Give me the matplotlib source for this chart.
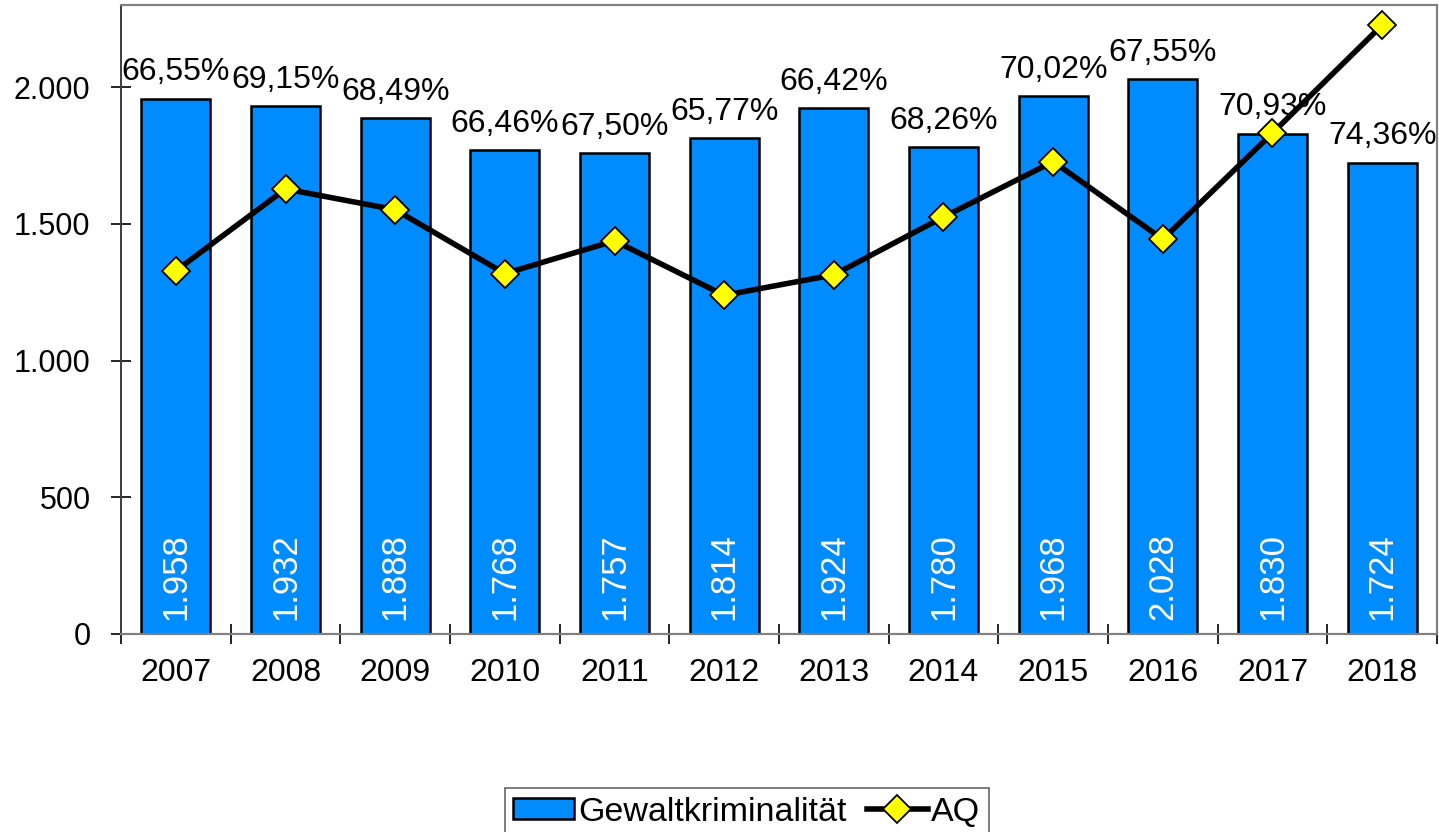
import matplotlib.pyplot as plt
from matplotlib.ticker import FuncFormatter, FixedLocator
import numpy as np

# Daten
jahre = ['2007', '2008', '2009', '2010', '2011', '2012',
         '2013', '2014', '2015', '2016', '2017', '2018']
gewalt = [1958, 1932, 1888, 1768, 1757, 1814, 1924, 1780, 1968, 2028, 1830, 1724]
aq = [66.55, 69.15, 68.49, 66.46, 67.50, 65.77, 66.42, 68.26, 70.02, 67.55, 70.93, 74.36]

plt.rcParams['font.family'] = ['Liberation Sans', 'DejaVu Sans']

fig = plt.figure(figsize=(14.39, 8.32), dpi=100)
ax = fig.add_axes([0.0841, 0.238, 0.9145, 0.756])
ax2 = ax.twinx()

x = np.arange(len(jahre))
bars = ax.bar(x, gewalt, width=0.63, color='#008cff', edgecolor='black',
              linewidth=1.8, zorder=2, label='Gewaltkriminalität')

def de(v):
    return f'{v:,.0f}'.replace(',', '.')

# Werte in den Balken (weiß, gedreht)
for xi, v in zip(x, gewalt):
    ax.annotate(de(v), (xi, 0), xytext=(0, 10), textcoords='offset points',
                rotation=90, ha='center', va='bottom', color='white', fontsize=25,
                zorder=3)

# Prozentwerte über den Balken
for xi, v, p in zip(x, gewalt, aq):
    ax.annotate(f'{p:.2f}%'.replace('.', ','), (xi, v), xytext=(0, 8),
                textcoords='offset points', ha='center', va='bottom',
                fontsize=23, zorder=4)

ax2.plot(x, aq, color='black', linewidth=4, marker='D', markersize=14,
         markerfacecolor='#ffff00', markeredgecolor='black', markeredgewidth=1.3,
         zorder=5, label='AQ')

ax.set_xlim(-0.5, len(jahre) - 0.5)
ax.set_ylim(0, 2300)
ax2.set_ylim(55, 75)
ax2.set_yticks([])

ax.set_yticks([0, 500, 1000, 1500, 2000])
ax.yaxis.set_major_formatter(FuncFormatter(lambda v, _: de(v)))
ax.set_xticks(x)
ax.set_xticklabels(jahre)
ax.xaxis.set_minor_locator(FixedLocator(np.arange(-0.5, len(jahre), 1)))
ax.tick_params(axis='x', which='major', length=0, labelsize=23, pad=17)
ax.tick_params(axis='x', which='minor', direction='inout', length=14, width=1.2)
ax.tick_params(axis='y', direction='inout', length=14, width=1.2, labelsize=22, pad=15)

for a in (ax, ax2):
    for s in ['top', 'right']:
        a.spines[s].set_color('#808080')
        a.spines[s].set_linewidth(1.5)
    a.spines['left'].set_color('#404040')
    a.spines['bottom'].set_color('#808080')
    a.spines['left'].set_linewidth(1.3)
    a.spines['bottom'].set_linewidth(1.5)

h1, l1 = ax.get_legend_handles_labels()
h2, l2 = ax2.get_legend_handles_labels()
leg = fig.legend(h1 + h2, l1 + l2, loc='center', bbox_to_anchor=(0.519, 0.024),
                 ncol=2, fontsize=24.5, frameon=True, fancybox=False,
                 handlelength=1.8, handleheight=0.6, handletextpad=0.1,
                 columnspacing=0.6, borderpad=0.25, borderaxespad=0)
leg.get_frame().set_edgecolor('#404040')
leg.get_frame().set_linewidth(1.2)

fig.savefig('out.png', dpi=100)
